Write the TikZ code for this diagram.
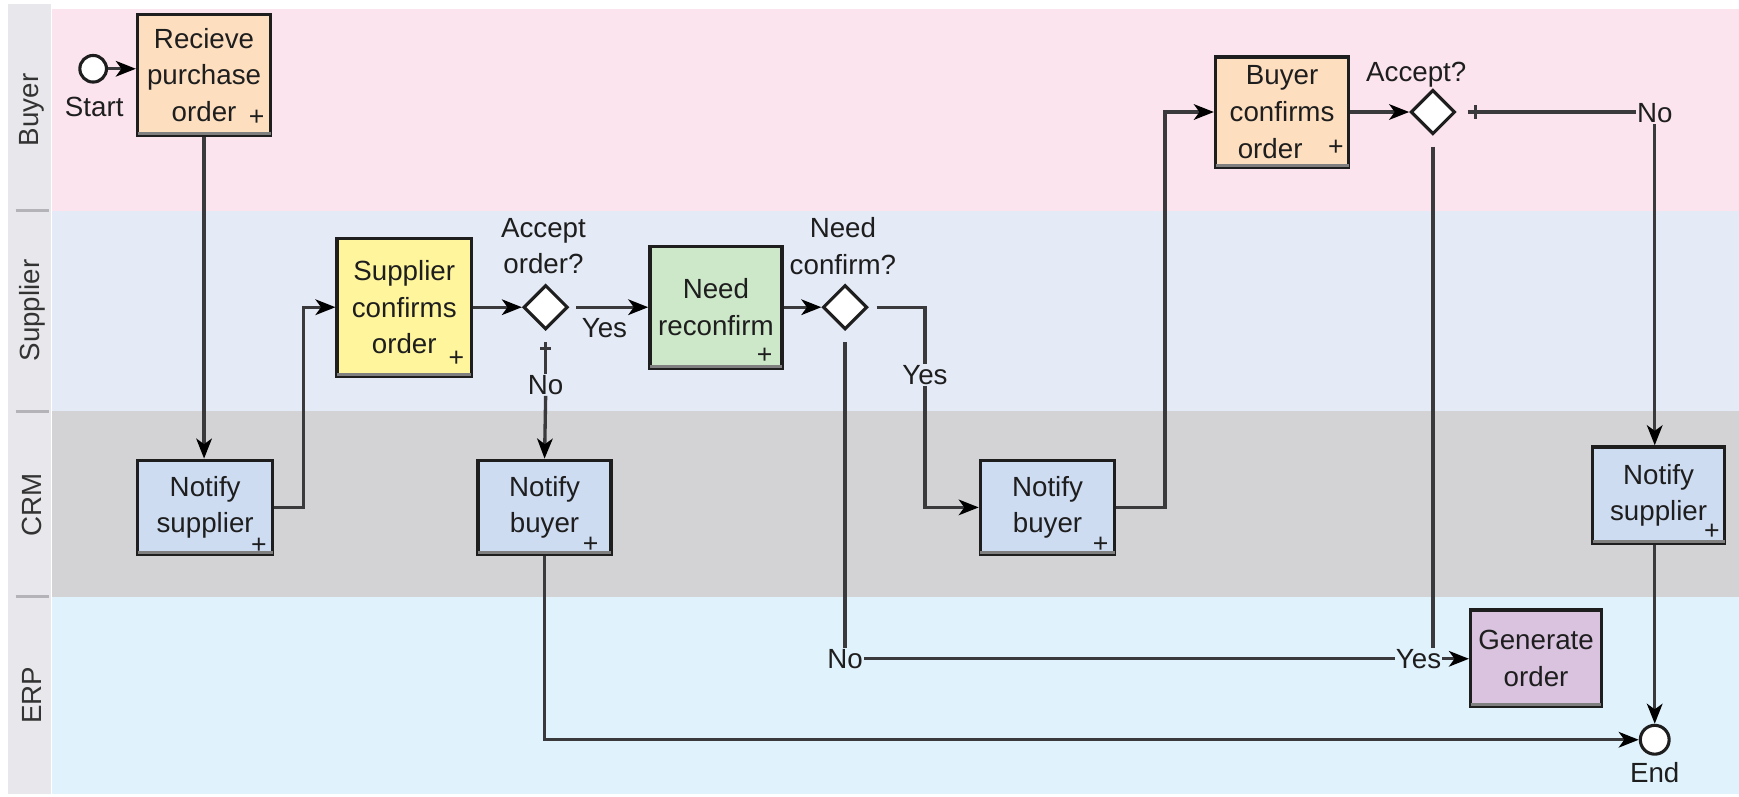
\documentclass[tikz,border=0pt]{standalone}
\usepackage{fontspec}
\setmainfont{Liberation Sans}
\usetikzlibrary{arrows.meta,shapes.geometric}

\definecolor{laneBuyer}{HTML}{FCE4EE}
\definecolor{laneSupplier}{HTML}{E4EAF6}
\definecolor{laneCRM}{HTML}{D3D3D5}
\definecolor{laneERP}{HTML}{E0F2FC}
\definecolor{headBg}{HTML}{E8E8EC}
\definecolor{headSep}{HTML}{B4B4B8}
\definecolor{taskPeach}{HTML}{FDDFC0}
\definecolor{taskYellow}{HTML}{FFF59C}
\definecolor{taskGreen}{HTML}{CDE8C9}
\definecolor{taskBlue}{HTML}{CEDCF2}
\definecolor{taskLilac}{HTML}{D9C3DF}
\definecolor{ink}{HTML}{1E1E1E}
\definecolor{wire}{HTML}{3A3A3C}

\begin{document}
\begin{tikzpicture}[x=1pt, y=-1pt,
  every node/.style={font=\fontsize{25}{33}\selectfont, text=ink},
  note/.style={align=center, inner sep=0pt},
  task/.style={draw=ink, line width=3pt, rectangle, align=center, inner sep=0pt},
  gate/.style={diamond, draw=ink, fill=white, line width=2.8pt, minimum width=40pt, minimum height=40pt, inner sep=0pt},
  event/.style={circle, draw=ink, fill=white, line width=2.8pt, minimum size=24pt, inner sep=0pt},
  seq/.style={draw=wire, line width=3pt},
  flow/.style={seq, -{Stealth[length=18pt,width=14pt,inset=5pt,color=black]}},
  marker/.style={font=\fontsize{24}{24}\selectfont, inner sep=0pt},
  cond/.style={inner sep=1pt},
  lanelabel/.style={rotate=90, text=black!80, inner sep=0pt}
]
% canvas and swimlanes
\fill[white] (0,0) rectangle (1568,718);
\useasboundingbox (0,0) rectangle (1568,718);
\fill[headBg] (7,4) rectangle (46,716);
\fill[laneBuyer] (47,8) rectangle (1568,190);
\fill[laneSupplier] (47,190) rectangle (1568,371);
\fill[laneCRM] (47,371) rectangle (1568,538);
\fill[laneERP] (47,538) rectangle (1568,716);
\foreach \yy in {190,371,538}
  \draw[headSep, line width=3pt] (14,\yy) -- (44,\yy);
\node[lanelabel] (lBuyer) at (29,99) {Buyer};
\node[lanelabel] (lSupplier) at (29,280) {Supplier};
\node[lanelabel] (lCRM) at (29,455) {CRM};
\node[lanelabel] (lERP) at (29,627) {ERP};

% events
\node[event] (start) at (84,62) {};
\node[note] (startLbl) at (85,96) {Start};
\node[event, minimum size=26pt] (end) at (1492,667) {};
\node[note] (endLbl) at (1492,697) {End};

% tasks
\node[task, fill=taskPeach, minimum width=120pt, minimum height=109pt] (recv) at (184,67.5) {Recieve\\purchase\\order};
\node[task, fill=taskBlue, minimum width=122pt, minimum height=85pt] (ns1) at (185,457.5) {Notify\\supplier};
\node[task, fill=taskYellow, minimum width=121pt, minimum height=124pt] (sc) at (364.5,277) {Supplier\\confirms\\order};
\node[task, fill=taskGreen, minimum width=119pt, minimum height=110pt] (recf) at (645.5,277) {Need\\reconfirm};
\node[task, fill=taskBlue, minimum width=120pt, minimum height=85pt] (nb1) at (491,457.5) {Notify\\buyer};
\node[task, fill=taskBlue, minimum width=121pt, minimum height=85pt] (nb2) at (944.5,457.5) {Notify\\buyer};
\node[task, fill=taskPeach, minimum width=120pt, minimum height=99pt] (bconf) at (1156,101) {Buyer\\confirms\\order\phantom{ +}};
\node[task, fill=taskBlue, minimum width=119pt, minimum height=87pt] (ns2) at (1495.5,446.5) {Notify\\supplier};
\node[task, fill=taskLilac, minimum width=118pt, minimum height=87pt] (gen) at (1385,593.5) {Generate\\order};

% shaded bottom edge of each task
\foreach \t in {recv,ns1,sc,recf,nb1,nb2,bconf,ns2,gen}
  \draw[line width=2.5pt, black!50] ([shift={(1.5pt,3pt)}]\t.south west) -- ([shift={(-1.5pt,3pt)}]\t.south east);

% sub-process markers
\node[marker] (mRecv) at ([shift={(-14pt,17pt)}]recv.south east) {+};
\node[marker] (mSc) at ([shift={(-15pt,17pt)}]sc.south east) {+};
\node[marker] (mRecf) at ([shift={(-17pt,13pt)}]recf.south east) {+};
\node[marker] (mNs1) at ([shift={(-14pt,9pt)}]ns1.south east) {+};
\node[marker] (mNb1) at ([shift={(-20pt,10pt)}]nb1.south east) {+};
\node[marker] (mNb2) at ([shift={(-14pt,10pt)}]nb2.south east) {+};
\node[marker] (mBconf) at ([shift={(-13pt,19pt)}]bconf.south east) {+};
\node[marker] (mNs2) at ([shift={(-13pt,12pt)}]ns2.south east) {+};

% gateways and their questions
\node[gate] (dOrder) at (492,277) {};
\node[note] (qOrder) at (490,222) {Accept\\order?};
\node[gate] (dConf) at (762,277) {};
\node[note] (qConf) at (760,222) {Need\\confirm?};
\node[gate] (dAcc) at (1292,101) {};
\node[note] (qAcc) at (1277,67) {Accept?};

% condition labels
\node[cond] (yesOrder) at (545,296) {Yes};
\node[cond] (noOrder) at (492,347) {No};
\node[cond] (yesConf) at (834,338) {Yes};
\node[cond] (noConf) at (762,594) {No};
\node[cond] (yesAcc) at (1279,594) {Yes};
\node[cond] (noAcc) at (1492,102) {No};

% sequence flows
\draw[flow] (start.east) -- (start.east -| recv.west);
\draw[flow] (recv.south) -- (recv.south |- ns1.north);
\draw[flow] (ns1.east) -- ++(26,0) |- (sc.west);
\draw[flow] (sc.east) -- (dOrder.west);
\draw[flow] ([xshift=6pt]dOrder.east) -- (recf.west);
\draw[seq] ([yshift=-10pt]dOrder.south) -- (noOrder.north);
\draw[seq] ([shift={(-5pt,-16pt)}]dOrder.south) -- ++(10,0);
\draw[flow] (noOrder.south) -- (nb1.north);
\draw[flow] (recf.east) -- (dConf.west);
\draw[seq] ([xshift=7pt]dConf.east) -| (yesConf.north);
\draw[flow] (yesConf.south) |- (nb2.west);
\draw[seq] ([yshift=-10pt]dConf.south) -- (noConf.north);
\draw[seq] (noConf.east) -- (yesAcc.west);
\draw[flow] (yesAcc.east) -- (yesAcc.east -| gen.west);
\draw[flow] (nb2.east) -- ++(44,0) |- (bconf.west);
\draw[flow] (bconf.east) -- (dAcc.west);
\draw[seq] ([xshift=10pt]dAcc.east) -- (dAcc.east -| noAcc.west);
\draw[seq] ([shift={(17pt,6pt)}]dAcc.east) -- ++(0,12);
\draw[flow] (noAcc.south) -- (noAcc.south |- ns2.north);
\draw[seq] ([yshift=-10pt]dAcc.south) -- (dAcc.south |- yesAcc.north);
\draw[flow] (end.north |- ns2.south) -- (end.north);
\draw[flow] (nb1.south) |- (end.west);
\end{tikzpicture}
\end{document}
